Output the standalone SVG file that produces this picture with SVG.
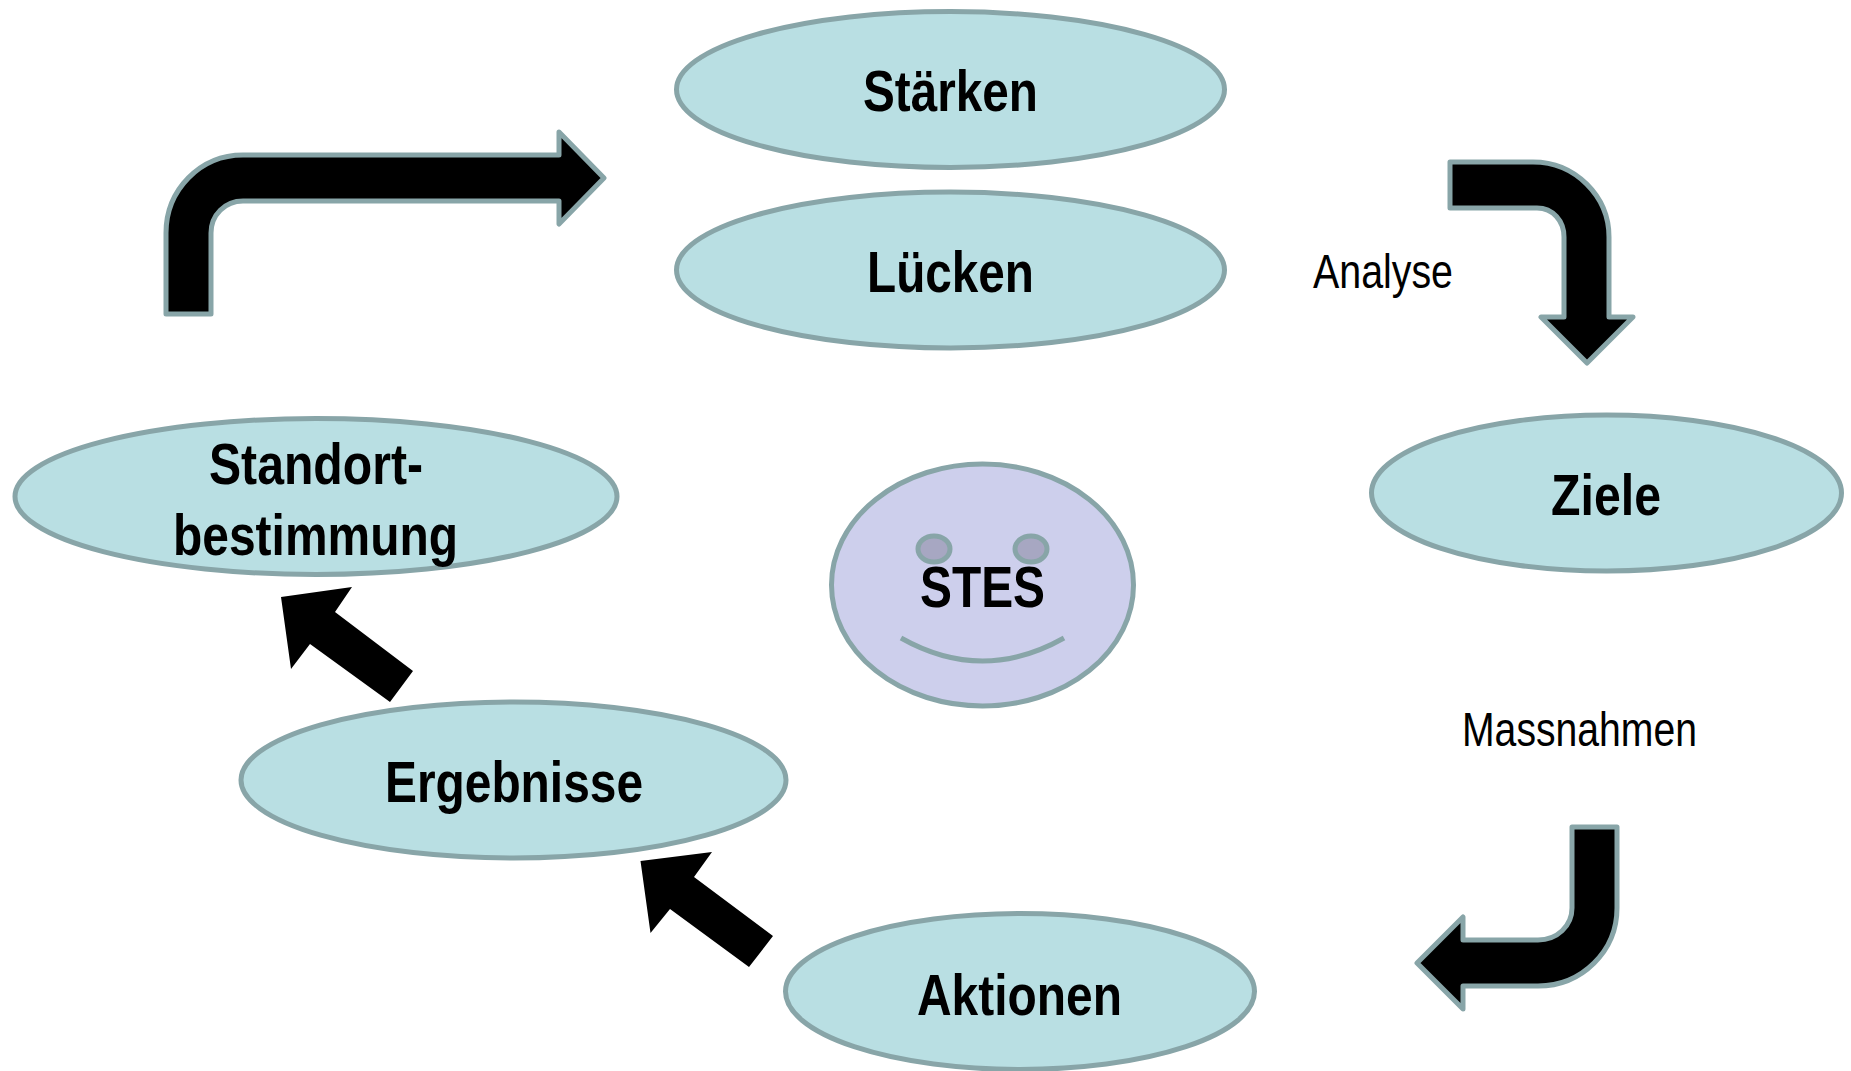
<svg xmlns="http://www.w3.org/2000/svg" width="1851" height="1071" viewBox="0 0 1851 1071">
<style>
.n{fill:#b9dfe3;stroke:#88a5a8;stroke-width:5}
.f{fill:#cdcfec;stroke:#88a5a8;stroke-width:5}
.e{fill:#a7a7c2;stroke:#88a5a8;stroke-width:5}
.s{fill:none;stroke:#88a5a8;stroke-width:5}
.a{fill:#000;stroke:#88a5a8;stroke-width:5;stroke-linejoin:round}
.b{fill:#000}
text{font-family:"Liberation Sans",Arial,sans-serif;fill:#000;text-anchor:start}
.t{font-weight:bold;font-size:57px}
.l{font-size:48px}
</style>
<rect width="1851" height="1071" fill="#fff"/>
<g id="connectors">
<path class="a" d="M166 314V233C166 190 200 155 243 155H559V132L604 178L559 224V201H243C225 201 211 215 211 233V314Z"/>
<path class="a" d="M1450 162H1533C1575 162 1609 196 1609 237V317H1633L1587 363L1541 317H1564V237C1564 221 1553 208 1537 208H1450Z"/>
<path class="a" d="M1617 827V908C1617 951 1582 986 1538 986H1463V1009L1417 963L1463 917V940H1538C1557 940 1572 926 1572 908V827Z"/>
<path class="b" d="M281 597L352 587L335 612L413 671L390 702L310 644L291 669Z"/>
<path class="b" d="M640.500 861L712 852L694 877L773 936L749 967L670 909L650.500 933Z"/>
</g>
<g id="staerken"><ellipse class="n" cx="950.500" cy="89.500" rx="274" ry="78"/><text class="t" x="863" y="111" textLength="175" lengthAdjust="spacingAndGlyphs">Stärken</text></g>
<g id="luecken"><ellipse class="n" cx="950.500" cy="270" rx="274" ry="78"/><text class="t" x="867" y="292" textLength="167" lengthAdjust="spacingAndGlyphs">Lücken</text></g>
<g id="ziele"><ellipse class="n" cx="1606.500" cy="493" rx="235" ry="78"/><text class="t" x="1551" y="515" textLength="110" lengthAdjust="spacingAndGlyphs">Ziele</text></g>
<g id="standortbestimmung"><ellipse class="n" cx="316" cy="496.500" rx="301" ry="78"/><text class="t" x="209" y="484" textLength="214" lengthAdjust="spacingAndGlyphs">Standort-</text><text class="t" x="173" y="555" textLength="285" lengthAdjust="spacingAndGlyphs">bestimmung</text></g>
<g id="ergebnisse"><ellipse class="n" cx="513.500" cy="780" rx="272.500" ry="78"/><text class="t" x="385" y="802" textLength="258" lengthAdjust="spacingAndGlyphs">Ergebnisse</text></g>
<g id="aktionen"><ellipse class="n" cx="1020" cy="991.500" rx="234.500" ry="78"/><text class="t" x="917" y="1015" textLength="205" lengthAdjust="spacingAndGlyphs">Aktionen</text></g>
<g id="stes"><ellipse class="f" cx="982.500" cy="585" rx="151" ry="121"/><ellipse class="e" cx="934" cy="549" rx="16" ry="13"/><ellipse class="e" cx="1031" cy="549" rx="16" ry="13"/><path class="s" d="M901 638Q982.500 684 1064 638"/><text class="t" x="920" y="607" textLength="125" lengthAdjust="spacingAndGlyphs">STES</text></g>
<g id="analyse"><text class="l" x="1313" y="288" textLength="140" lengthAdjust="spacingAndGlyphs">Analyse</text></g>
<g id="massnahmen"><text class="l" x="1462" y="746" textLength="235" lengthAdjust="spacingAndGlyphs">Massnahmen</text></g>
</svg>
